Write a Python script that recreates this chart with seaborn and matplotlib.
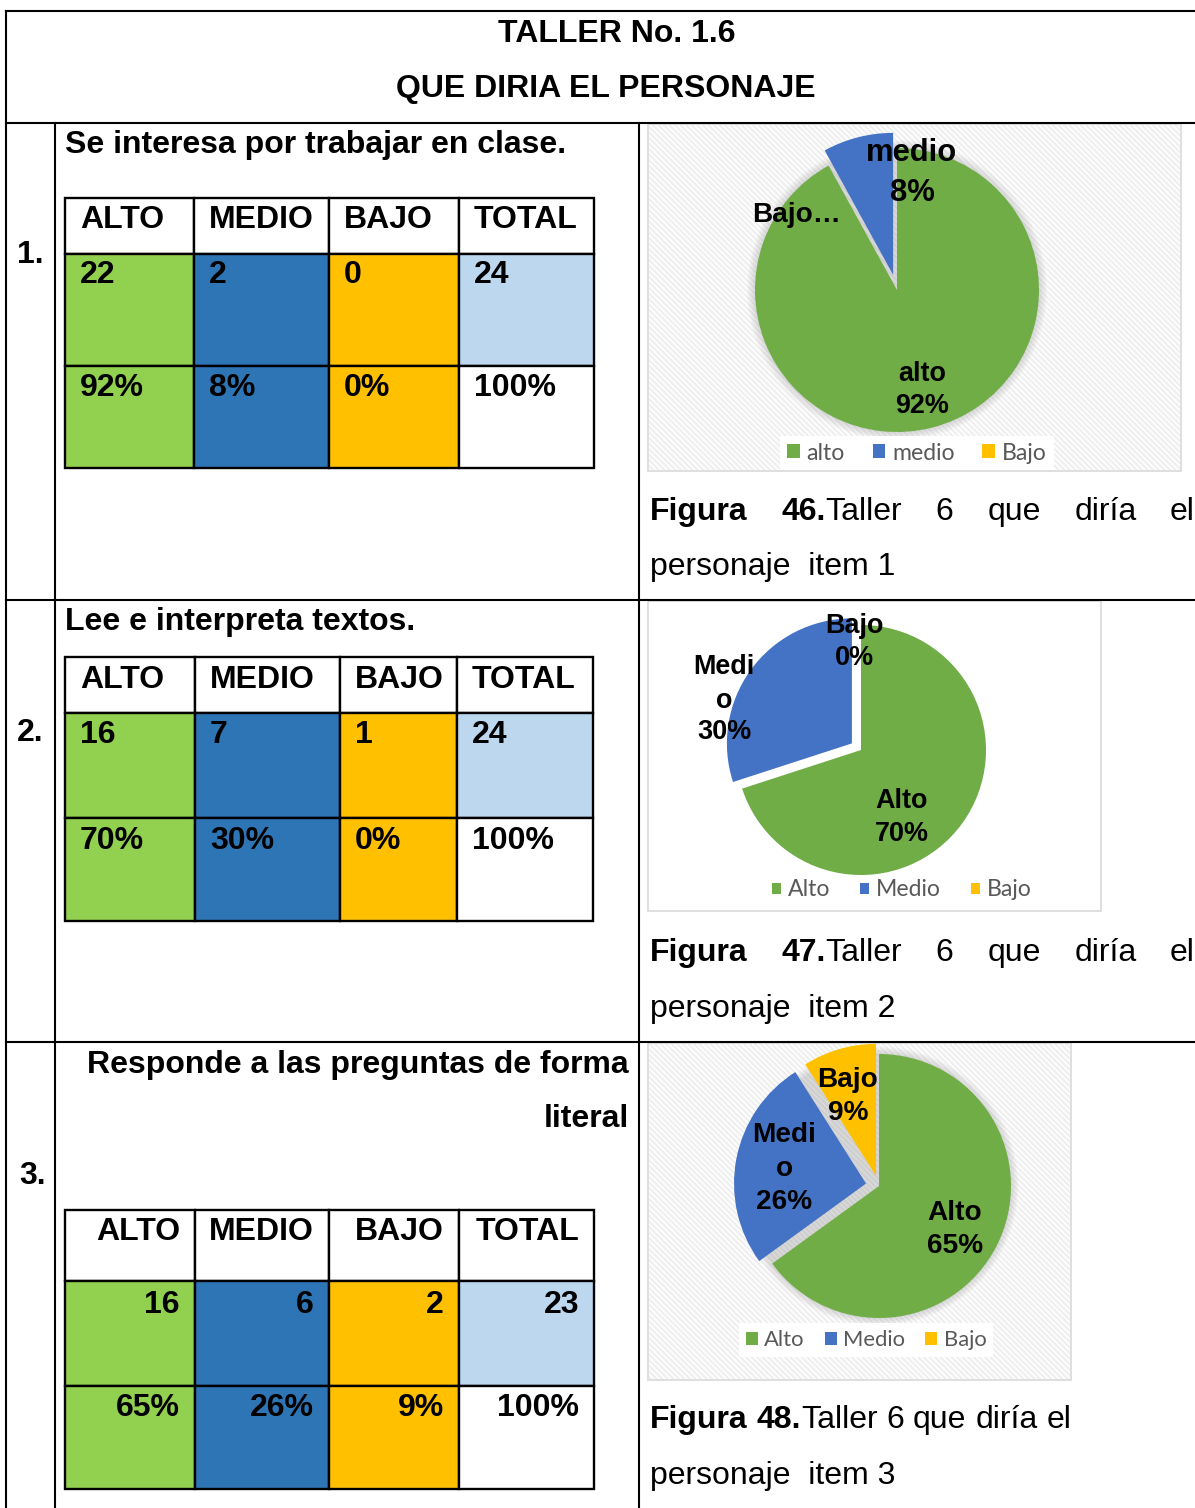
import matplotlib
matplotlib.use("Agg")
import numpy as np
import pandas as pd
import seaborn as sns
import matplotlib.pyplot as plt
from matplotlib.patches import Rectangle, Circle

# ---------------- data ----------------
title_lines = ["TALLER No. 1.6", "QUE DIRIA EL PERSONAJE"]
item_numbers = ["1.", "2.", "3."]
item1_question = "Se interesa por trabajar en clase."
item2_question = "Lee e interpreta textos."
item3_question = ["Responde a las preguntas de forma", "literal"]
table_headers = ["ALTO", "MEDIO", "BAJO", "TOTAL"]
item1_counts = [22, 2, 0, 24]
item1_percents = [92, 8, 0, 100]
item2_counts = [16, 7, 1, 24]
item2_percents = [70, 30, 0, 100]
item3_counts = [16, 6, 2, 23]
item3_percents = [65, 26, 9, 100]

pie1_categories = ["alto", "medio", "Bajo"]
pie1_values = [92, 8, 0]
pie2_categories = ["Alto", "Medio", "Bajo"]
pie2_values = [70, 30, 0]
pie3_categories = ["Alto", "Medio", "Bajo"]
pie3_values = [65, 26, 9]

figure_numbers = [46, 47, 48]
caption_words = ["6", "que", "diría", "el"]
caption_tail = "personaje  item {}"

# ---------------- style ----------------
sns.set_theme(style="white")
plt.rcParams["font.family"] = ["Liberation Sans", "DejaVu Sans"]
plt.rcParams["text.color"] = "black"
plt.rcParams["hatch.linewidth"] = 1.6

W, H = 1195, 1508
fig = plt.figure(figsize=(W / 100, H / 100), dpi=100)
main = fig.add_axes([0, 0, 1, 1])
main.set_xlim(0, W)
main.set_ylim(H, 0)
main.axis("off")

PT = 0.72  # px -> pt at 100 dpi
TXT = 32   # body text size in px

table_fill = ["#92D050", "#2E75B6", "#FFC000", "#BDD7EE"]
pct_fill = ["#92D050", "#2E75B6", "#FFC000", "#FFFFFF"]
pie_colors = ["#70AD47", "#4472C4", "#FFC000"]


def text_base(ax, x, base, s, px=TXT, weight="bold", ha="left", **kw):
    return ax.text(x, base, s, fontsize=px * PT, fontweight=weight, ha=ha,
                   va="baseline", color="black", **kw)


def text_center(ax, x, yc, s, px, weight="bold", ha="center", **kw):
    return ax.text(x, yc + 0.358 * px, s, fontsize=px * PT, fontweight=weight,
                   ha=ha, va="baseline", color="black", **kw)


# ---------------- outer grid ----------------
LW = 1.5
for (xa, ya, xb, yb) in [(6, 11, W, 11), (6, 11, 6, H), (6, 123, W, 123),
                         (55, 123, 55, H), (639, 123, 639, H),
                         (6, 600, W, 600), (6, 1042, W, 1042)]:
    main.plot([xa, xb], [ya, yb], color="black", lw=LW, solid_capstyle="projecting")

text_base(main, 617, 42, title_lines[0], ha="center")
text_base(main, 606, 97, title_lines[1], ha="center")

text_base(main, 17, 263, item_numbers[0])
text_base(main, 17, 741, item_numbers[1])
text_base(main, 19, 1184, item_numbers[2])

text_base(main, 65, 153, item1_question)
text_base(main, 65, 630, item2_question)
text_base(main, 629, 1073, item3_question[0], ha="right")
text_base(main, 629, 1127, item3_question[1], ha="right")

# ---------------- tables ----------------
tables = [
    dict(cols=[65, 194, 329, 459, 594], rows=[198, 254, 366, 468],
         base=[228, 283, 396], align="left", counts=item1_counts, pcts=item1_percents),
    dict(cols=[65, 195, 340, 457, 593], rows=[657, 713, 818, 921],
         base=[688, 743, 849], align="left", counts=item2_counts, pcts=item2_percents),
    dict(cols=[65, 195, 329, 459, 594], rows=[1210, 1281, 1386, 1489],
         base=[1240, 1313, 1416], align="right", counts=item3_counts, pcts=item3_percents),
]
for t in tables:
    cols, rows = t["cols"], t["rows"]
    contents = [table_headers,
                [str(v) for v in t["counts"]],
                [f"{v}%" for v in t["pcts"]]]
    fills = [["white"] * 4, table_fill, pct_fill]
    for r in range(3):
        for c in range(4):
            main.add_patch(Rectangle((cols[c], rows[r]), cols[c + 1] - cols[c],
                                     rows[r + 1] - rows[r], facecolor=fills[r][c],
                                     edgecolor="black", lw=1.7, zorder=2))
            if t["align"] == "left":
                text_base(main, cols[c] + 15, t["base"][r], contents[r][c], zorder=3)
            else:
                text_base(main, cols[c + 1] - 15, t["base"][r], contents[r][c],
                          ha="right", zorder=3)


# ---------------- pies ----------------
def draw_pie(frame, center, r, values, explode, hatch, shadow):
    x0, y0, x1, y1 = frame
    main.add_patch(Rectangle((x0, y0), x1 - x0, y1 - y0, facecolor="white",
                             edgecolor="#d9d9d9", lw=1.2, zorder=1))
    if hatch:
        main.add_patch(Rectangle((x0 + 1, y0 + 1), x1 - x0 - 2, y1 - y0 - 2,
                                 facecolor="none", edgecolor="#efefef",
                                 hatch="\\\\\\\\\\\\", lw=0, zorder=1))
    ax = fig.add_axes([x0 / W, 1 - y1 / H, (x1 - x0) / W, (y1 - y0) / H])
    ax.patch.set_visible(False)
    cx, cy = center
    if shadow:
        for i in range(8):
            ax.add_patch(Circle((0, 0), 1.0 + 0.008 * i, facecolor="#9a9a9a",
                                edgecolor="none", alpha=0.05, zorder=0))
    wedges, _ = ax.pie(values, colors=pie_colors, startangle=90, counterclock=False,
                       explode=explode, wedgeprops=dict(linewidth=0))
    ax.set_xlim((x0 - cx) / r, (x1 - cx) / r)
    ax.set_ylim((cy - y1) / r, (cy - y0) / r)
    ax.set_aspect("auto")
    ax.axis("off")
    return wedges


w1 = draw_pie((648, 124, 1181, 471), (897, 290), 142, pie1_values,
              [0, 0.11, 0], True, True)
w2 = draw_pie((648, 601, 1101, 911), (861, 750), 125, pie2_values,
              [0, 0.09, 0], False, False)
w3 = draw_pie((648, 1043, 1071, 1380), (879, 1186), 132, pie3_values,
              [0, 0.10, 0.08], True, True)

top = fig.add_axes([0, 0, 1, 1], zorder=10)
top.set_xlim(0, W)
top.set_ylim(H, 0)
top.axis("off")
top.patch.set_visible(False)

# data labels (name + percentage), wrapped as in the original chart
text_center(top, 922, 371, pie1_categories[0], 27)
text_center(top, 922, 403, f"{pie1_values[0]}%", 27)
text_center(top, 912, 150, pie1_categories[1], 31)
text_center(top, 912, 190, f"{pie1_values[1]}%", 31)
text_center(top, 797, 212, pie1_categories[2] + "…", 28)

lab2 = [(["Alto"], pie2_values[0], 902, [798, 831]),
        (["Medi", "o"], pie2_values[1], 724, [664, 698, 729]),
        (["Bajo"], pie2_values[2], 854, [623, 655])]
for parts, v, x, ys in lab2:
    for p, yy in zip(parts + [f"{v}%"], ys):
        text_center(top, x, yy, p, 27)

lab3 = [(["Alto"], pie3_values[0], 955, [1210, 1243]),
        (["Medi", "o"], pie3_values[1], 784, [1132, 1166, 1199]),
        (["Bajo"], pie3_values[2], 848, [1077, 1110])]
for parts, v, x, ys in lab3:
    for p, yy in zip(parts + [f"{v}%"], ys):
        text_center(top, x, yy, p, 28)


# legends
def legend(wedges, labels, cx, cy, px, hl, cs, frame=True):
    lg = fig.legend(wedges, labels, loc="center",
                    bbox_to_anchor=(cx / W, 1 - cy / H), ncol=3, frameon=frame,
                    prop=dict(family=["Lato", "DejaVu Sans"], size=px * PT),
                    labelcolor="#595959", handlelength=hl, handleheight=hl,
                    handletextpad=0.3, columnspacing=cs, borderpad=0.3,
                    fancybox=False, framealpha=1.0)
    if frame:
        lg.get_frame().set_facecolor("white")
        lg.get_frame().set_edgecolor("none")
    lg.set_zorder(20)
    return lg


legend(w1, pie1_categories, 917, 453, 23, 0.55, 1.2)
legend(w2, pie2_categories, 902, 890, 23, 0.38, 1.3, frame=False)
legend(w3, pie3_categories, 866, 1340, 22, 0.55, 0.9)

# ---------------- captions ----------------
renderer = fig.canvas.get_renderer()


def width_of(s, weight):
    t = main.text(0, 0, s, fontsize=TXT * PT, fontweight=weight)
    w = t.get_window_extent(renderer).width
    t.remove()
    return w


def caption(num, base1, base2, justify):
    groups = [[("Figura", "bold")], [(f"{num}.", "bold"), ("Taller", "normal")]] + \
             [[(w, "normal")] for w in caption_words]
    widths = [sum(width_of(s, wt) for s, wt in g) for g in groups]
    x0 = 650
    if justify:
        gap = (1195 - x0 - sum(widths)) / (len(groups) - 1)
    else:
        gap = width_of("a b", "normal") - width_of("ab", "normal")
    x = x0
    for g, gw in zip(groups, widths):
        xx = x
        for s, wt in g:
            text_base(main, xx, base1, s, weight=wt)
            xx += width_of(s, wt)
        x += gw + gap
    text_base(main, 650, base2, caption_tail.format(figure_numbers.index(num) + 1),
              weight="normal")


caption(figure_numbers[0], 520, 575, True)
caption(figure_numbers[1], 961, 1017, True)
caption(figure_numbers[2], 1428, 1484, False)

fig.savefig("out.png", dpi=100)
